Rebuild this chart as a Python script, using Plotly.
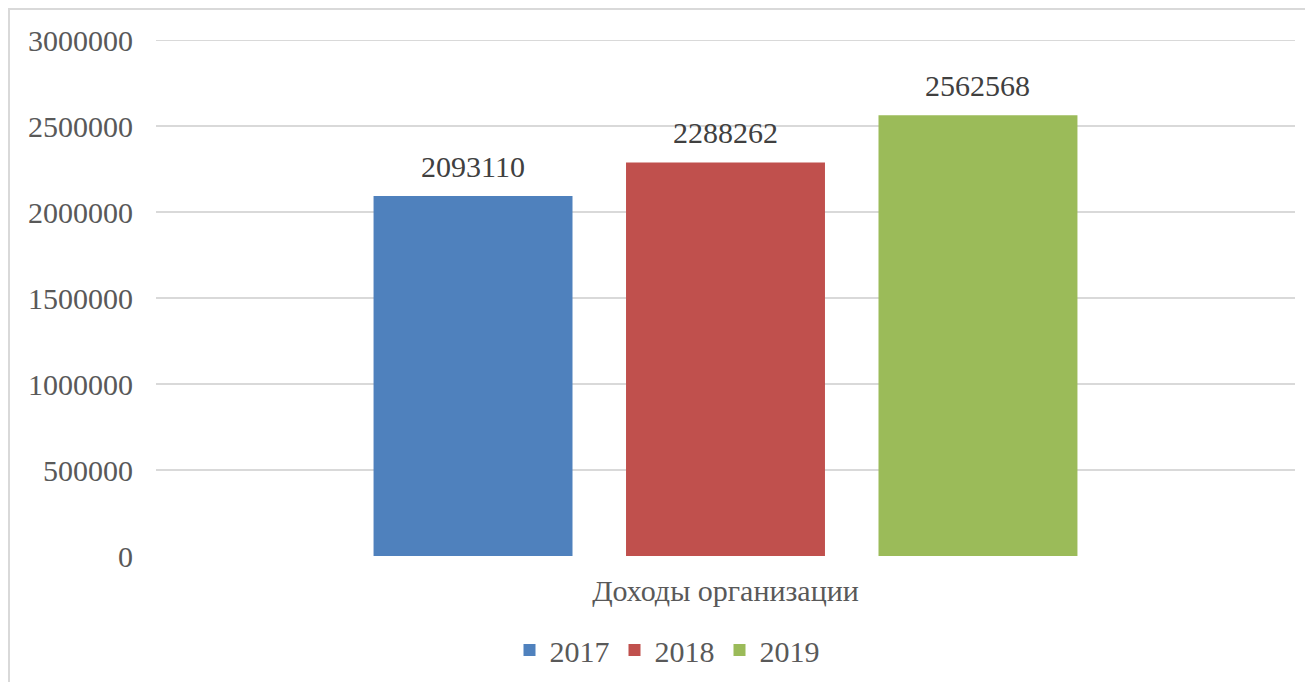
import plotly.graph_objects as go

category = ["Доходы организации"]
years = ["2017", "2018", "2019"]
values = [2093110, 2288262, 2562568]
colors = ["#4F81BD", "#C0504D", "#9BBB59"]
y_ticks = [0, 500000, 1000000, 1500000, 2000000, 2500000, 3000000]

OFF = 8  # page body margin of the browser
W, H = 1313 - OFF, 682 - OFF
L = 156 - OFF
R = 1313 - 1295
T = 40 - OFF
B = H - (556 - OFF)
pw, ph = W - L - R, H - T - B

BARGAP, GROUPGAP = 0.335, 0.212
FONT = "Times New Roman, Liberation Serif, serif"
FS = 30


def px_x(p):
    return (p - OFF - L) / pw


def px_y(p):
    return (H - B - (p - OFF)) / ph


fig = go.Figure()
for yr, v, c in zip(years, values, colors):
    fig.add_trace(go.Bar(
        x=category, y=[v], name=yr, marker=dict(color=c, line=dict(width=0)),
        hoverinfo="x+y+name",
    ))

slot_px = pw * (1 - BARGAP) / len(years)
annotations = []
for i, v in enumerate(values):
    annotations.append(dict(
        x=category[0], y=v, xref="x", yref="y", text=str(v), showarrow=False,
        xanchor="center", yanchor="bottom", yshift=11,
        xshift=(i - (len(years) - 1) / 2) * slot_px,
        font=dict(family=FONT, size=FS, color="#404040"),
    ))

shapes = [dict(type="rect", xref="paper", yref="paper",
               x0=px_x(9), x1=px_x(1340), y0=px_y(9), y1=px_y(720),
               line=dict(color="#D9D9D9", width=2), fillcolor="rgba(0,0,0,0)", layer="below"),
          dict(type="line", xref="paper", yref="y", x0=0, x1=1,
               y0=y_ticks[-1], y1=y_ticks[-1],
               line=dict(color="#D9D9D9", width=2), layer="below")]

fig.update_layout(
    width=W, height=H,
    margin=dict(l=L, r=R, t=T, b=B, autoexpand=False),
    paper_bgcolor="white", plot_bgcolor="white",
    barmode="group", bargap=BARGAP, bargroupgap=GROUPGAP,
    font=dict(family=FONT, size=FS, color="#595959"),
    showlegend=True,
    legend=dict(orientation="h", x=px_x(667), xanchor="center", y=px_y(650), yanchor="middle",
                font=dict(family=FONT, size=FS, color="#595959"),
                itemwidth=30, traceorder="normal"),
    xaxis=dict(showgrid=False, showline=False, zeroline=False, ticks="",
               ticklabelstandoff=14,
               tickfont=dict(family=FONT, size=FS, color="#595959")),
    yaxis=dict(range=[0, 3000000], tickvals=y_ticks, ticktext=[str(t) for t in y_ticks],
               showgrid=True, gridcolor="#D9D9D9", gridwidth=2, zeroline=False,
               showline=False, ticks="", ticklabelstandoff=22,
               tickfont=dict(family=FONT, size=FS, color="#595959")),
    annotations=annotations,
    shapes=shapes,
)

fig.write_html("out.html")
